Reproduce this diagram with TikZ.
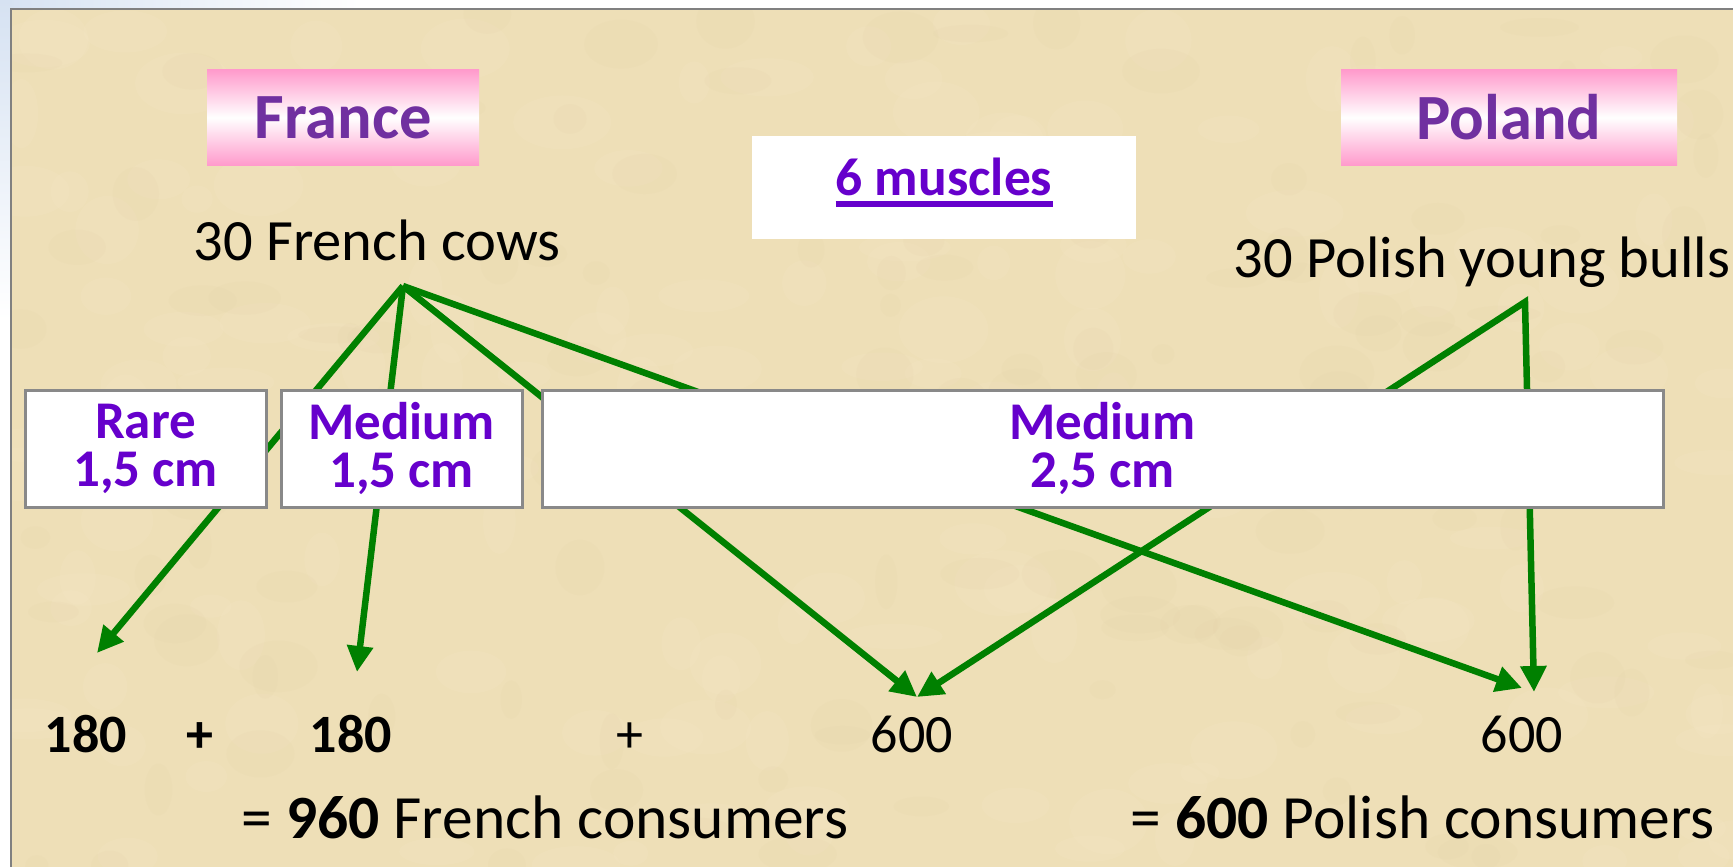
\documentclass[tikz,border=0pt]{standalone}
\usepackage{fontspec}
\setmainfont{Carlito}
\usetikzlibrary{arrows.meta}
\definecolor{parch}{RGB}{238,223,183}
\definecolor{parchlight}{RGB}{246,234,202}
\definecolor{parchdark}{RGB}{226,207,165}
\definecolor{framegray}{RGB}{128,128,128}
\definecolor{boxgray}{RGB}{137,137,137}
\definecolor{flagpink}{RGB}{255,155,204}
\definecolor{titlepurple}{RGB}{112,48,160}
\definecolor{cutviolet}{RGB}{102,0,204}
\definecolor{arrgreen}{RGB}{0,128,0}
\definecolor{tintblue}{RGB}{214,226,242}
\begin{document}
\begin{tikzpicture}[x=1pt,y=-1pt,
  lbl/.style={inner sep=0pt, anchor=base, text=black, font=\fontsize{58.5}{60}\selectfont},
  num/.style={inner sep=0pt, anchor=base, text=black, font=\fontsize{54}{56}\selectfont},
  numb/.style={num, font=\fontsize{54}{56}\selectfont\bfseries},
  total/.style={inner sep=0pt, anchor=base, text=black, font=\fontsize{61.5}{63}\selectfont},
  flag/.style={inner sep=0pt, minimum height=95pt, text=titlepurple,
    font=\fontsize{64.5}{66}\selectfont\bfseries,
    top color=flagpink, bottom color=flagpink, middle color=white},
  cutbox/.style={draw=boxgray, line width=3pt, fill=white, inner sep=0pt,
    minimum height=117pt, align=center, text=cutviolet,
    font=\fontsize{53}{48}\selectfont\bfseries},
  arr/.style={draw=arrgreen, line width=6.5pt, -{Triangle[length=26pt,width=25pt]}},
  arrboth/.style={draw=arrgreen, line width=6.5pt, {Triangle[length=26pt,width=25pt]}-{Triangle[length=26pt,width=25pt]}}
]
\useasboundingbox (0,0) rectangle (1733,867);
% outside area
\fill[white] (0,0) rectangle (1733,867);
\shade[left color=tintblue, right color=white] (0,0) rectangle (360,9);
\shade[top color=tintblue, bottom color=white] (0,0) rectangle (11,320);
% parchment frame
\fill[parch] (11,9) rectangle (1733,867);
\begin{scope}
\clip (11,9) rectangle (1733,867);
\pgfmathsetseed{42}
\foreach \i in {1,...,160}{
  \pgfmathsetmacro{\px}{11+rnd*1722}
  \pgfmathsetmacro{\py}{9+rnd*858}
  \pgfmathsetmacro{\rx}{15+rnd*35}
  \pgfmathsetmacro{\ry}{10+rnd*25}
  \fill[parchlight, opacity=0.18] (\px,\py) ellipse [x radius=\rx, y radius=\ry];
}
\foreach \i in {1,...,140}{
  \pgfmathsetmacro{\px}{11+rnd*1722}
  \pgfmathsetmacro{\py}{9+rnd*858}
  \pgfmathsetmacro{\rx}{10+rnd*30}
  \pgfmathsetmacro{\ry}{8+rnd*20}
  \fill[parchdark, opacity=0.12] (\px,\py) ellipse [x radius=\rx, y radius=\ry];
}
\end{scope}
\draw[framegray, line width=2.5pt] (11,867) -- (11,9) -- (1733,9);

% country flags
\node[flag, minimum width=272pt] (france) at (343,117.5) {France};
\node[flag, minimum width=336pt] (poland) at (1509,117.5) {Poland};

% 6 muscles
\node[fill=white, inner sep=0pt, minimum width=384pt, minimum height=103pt] (musbox) at (944,187.5) {};
\node[inner sep=0pt, anchor=base, text=cutviolet, font=\fontsize{53.5}{55}\selectfont\bfseries] (mus) at (944,195) {6 muscles};
\draw[cutviolet, line width=5.5pt] ([yshift=-9pt]mus.base west) -- ([yshift=-9pt]mus.base east);

% animals
\node[lbl] (frcows) at (377,260) {30 French cows};
\node[lbl] (plbulls) at (1482,277) {30 Polish young bulls};

% arrow end points
\coordinate (frsrc) at (403,286);
\coordinate (plsrc) at (1525,302);
\coordinate (t1) at (97,653);
\coordinate (t2) at (357,672);
\coordinate (t3) at (917,697);
\coordinate (t4) at (1522,688);
\coordinate (t5) at (1534,692);

\draw[arr] (frsrc) -- (t1);
\draw[arr] (frsrc) -- (t2);
\draw[arr] (frsrc) -- (t3);
\draw[arr] (frsrc) -- (t4);
\draw[arrboth, line join=miter] (t3) -- (plsrc) -- (t5);

% cooking boxes
\node[cutbox, minimum width=241pt] (rare) at (145.5,448.5) {Rare\\1,5 cm};
\node[cutbox, minimum width=241pt] (med1) at (401.5,448.5) {Medium\\1,5 cm};
\node[cutbox, minimum width=1121pt] (med2) at (1102.5,448.5) {Medium\\2,5 cm};

% numbers
\node[numb] (n1) at (86,752) {180};
\node[numb] (p1) at (200,752) {+};
\node[numb] (n2) at (351,752) {180};
\node[num] (p2) at (630,752) {+};
\node[num] (n3) at (912,752) {600};
\node[num] (n4) at (1522,752) {600};

% totals
\node[total] (frtot) at (545,838) {= \textbf{960} French consumers};
\node[total] (pltot) at (1423,838) {= \textbf{600} Polish consumers};
\end{tikzpicture}
\end{document}
